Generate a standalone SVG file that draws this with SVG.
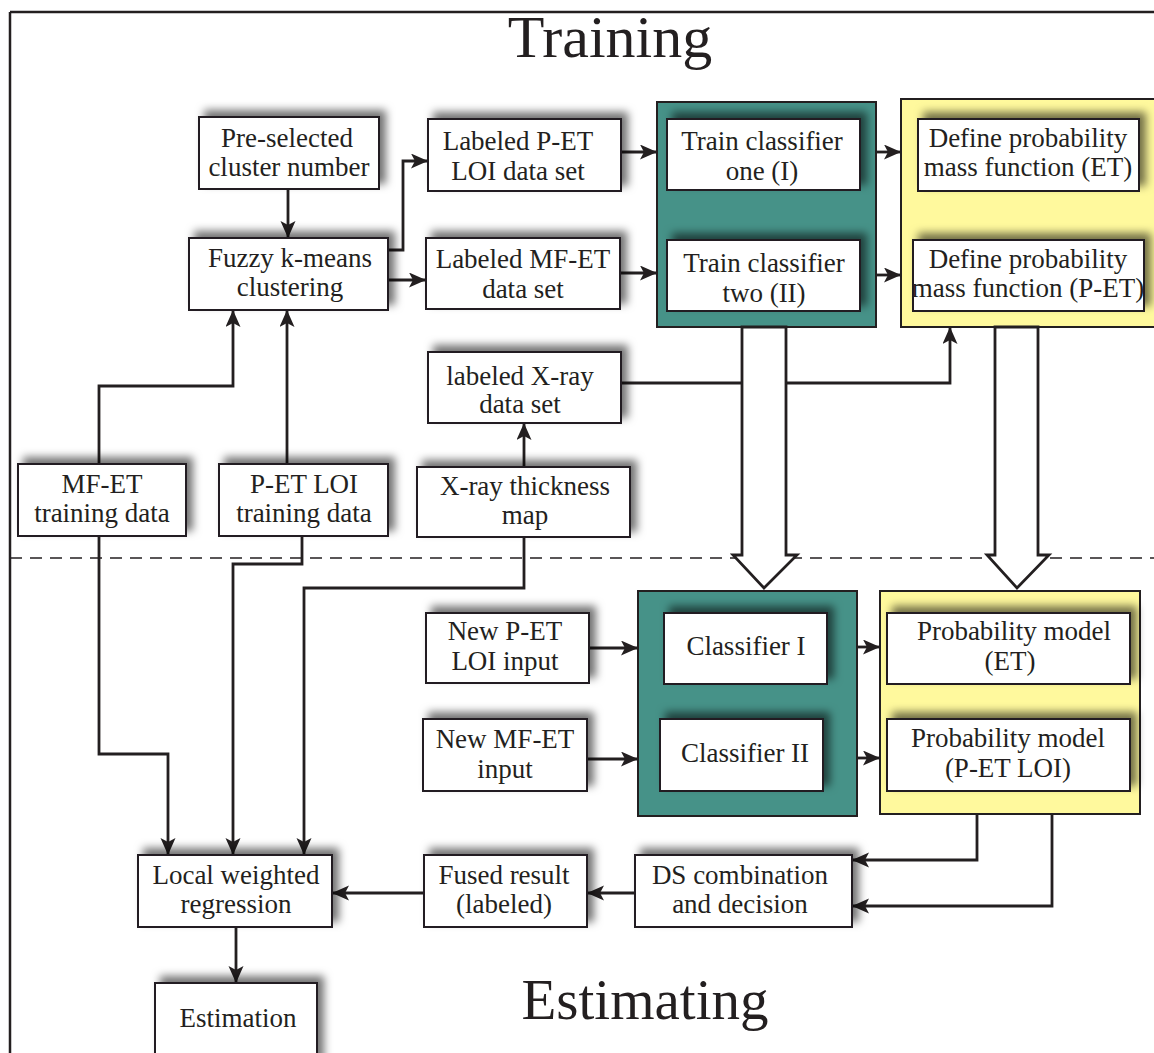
<svg xmlns="http://www.w3.org/2000/svg" width="1154" height="1053" viewBox="0 0 1154 1053">
<defs>
<style>
.box{fill:#fff;stroke:#231F20;stroke-width:2}
.t{font-family:"Liberation Serif","Times New Roman",serif;font-size:27px;fill:#231F20;text-anchor:middle}
.title{font-family:"Liberation Serif","Times New Roman",serif;fill:#231F20;text-anchor:middle}
.c{fill:none;stroke:#231F20;stroke-width:2.8}
.teal{fill:#469288;stroke:#231F20;stroke-width:2}
.yel{fill:#FFF99D;stroke:#231F20;stroke-width:2}
.hollow{fill:#fff;stroke:#231F20;stroke-width:2.8;stroke-linejoin:miter}
</style>
<filter id="sh" x="-20%" y="-40%" width="140%" height="180%">
<feGaussianBlur in="SourceAlpha" stdDeviation="4"/>
<feOffset dx="6" dy="-6" result="b"/>
<feFlood flood-color="#000" flood-opacity="0.55"/>
<feComposite in2="b" operator="in"/>
<feMerge><feMergeNode/><feMergeNode in="SourceGraphic"/></feMerge>
</filter>
<marker id="ah" markerUnits="userSpaceOnUse" markerWidth="20" markerHeight="18" refX="17" refY="7.5" orient="auto">
<path d="M0,0 L17,7.5 L0,15 L4,7.5 z" fill="#231F20"/>
</marker>
</defs>

<g id="frame">
<line x1="10" y1="12" x2="1154" y2="12" stroke="#231F20" stroke-width="2.5"/>
<line x1="10" y1="12" x2="10" y2="1053" stroke="#231F20" stroke-width="2.5"/>
<line x1="10" y1="558" x2="1154" y2="558" stroke="#231F20" stroke-width="1.6" stroke-dasharray="12,8"/>
<text class="title" x="610" y="57" font-size="60">Training</text>
<text class="title" x="645" y="1019" font-size="57">Estimating</text>
</g>

<g id="containers">
<rect id="teal-train" class="teal" x="657" y="102" width="219" height="225"/>
<rect id="yellow-train" class="yel" x="901" y="99" width="262" height="228"/>
<rect id="teal-est" class="teal" x="638" y="591" width="219" height="225"/>
<rect id="yellow-est" class="yel" x="880" y="591" width="260" height="223"/>
</g>

<g id="connectors">
<polyline class="c" points="288,189 288,238" marker-end="url(#ah)"/>
<polyline class="c" points="388,250 403,250 403,161 428,161" marker-end="url(#ah)"/>
<polyline class="c" points="388,280 426,280" marker-end="url(#ah)"/>
<polyline class="c" points="621,152 657,152" marker-end="url(#ah)"/>
<polyline class="c" points="620,273 657,273" marker-end="url(#ah)"/>
<polyline class="c" points="876,152 901,152" marker-end="url(#ah)"/>
<polyline class="c" points="876,275 901,275" marker-end="url(#ah)"/>
<polyline class="c" points="524,467 524,423" marker-end="url(#ah)"/>
<polyline class="c" points="621,383 950,383 950,327" marker-end="url(#ah)"/>
<polyline class="c" points="99,464 99,386 233,386 233,310" marker-end="url(#ah)"/>
<polyline class="c" points="287,464 287,310" stroke-width="3.4" marker-end="url(#ah)"/>
<polyline class="c" points="99,536 99,754 168,754 168,855" marker-end="url(#ah)"/>
<polyline class="c" points="302,536 302,564 233,564 233,855" marker-end="url(#ah)"/>
<polyline class="c" points="524,537 524,588 304,588 304,855" marker-end="url(#ah)"/>
<polyline class="c" points="589,648 638,648" stroke-width="3.4" marker-end="url(#ah)"/>
<polyline class="c" points="587,759 638,759" marker-end="url(#ah)"/>
<polyline class="c" points="857,647 880,647" marker-end="url(#ah)"/>
<polyline class="c" points="857,758 880,758" marker-end="url(#ah)"/>
<polyline class="c" points="977,814 977,860 852,860" marker-end="url(#ah)"/>
<polyline class="c" points="1052,814 1052,906 852,906" marker-end="url(#ah)"/>
<polyline class="c" points="635,893 587,893" stroke-width="3.4" marker-end="url(#ah)"/>
<polyline class="c" points="424,893 332,893" stroke-width="3.4" marker-end="url(#ah)"/>
<polyline class="c" points="236,927 236,983" marker-end="url(#ah)"/>
<polygon class="hollow" points="742,327 742,555 733,555 764,588 797,555 786,555 786,327"/>
<polygon class="hollow" points="995,327 995,555 987,555 1017,588 1049,555 1038,555 1038,327"/>
</g>

<g id="n-preselected"><rect class="box" filter="url(#sh)" x="199" y="117" width="180" height="72"/>
<text class="t" x="287" y="147">Pre-selected</text><text class="t" x="289" y="176">cluster number</text></g>
<g id="n-fuzzy"><rect class="box" filter="url(#sh)" x="189" y="238" width="199" height="72"/>
<text class="t" x="290" y="267">Fuzzy k-means</text><text class="t" x="290" y="296">clustering</text></g>
<g id="n-labeled-pet"><rect class="box" filter="url(#sh)" x="428" y="119" width="193" height="72"/>
<text class="t" x="518" y="150">Labeled P-ET</text><text class="t" x="518" y="180">LOI data set</text></g>
<g id="n-labeled-mfet"><rect class="box" filter="url(#sh)" x="426" y="238" width="194" height="71"/>
<text class="t" x="523" y="268">Labeled MF-ET</text><text class="t" x="523" y="298">data set</text></g>
<g id="n-train1"><rect class="box" filter="url(#sh)" x="667" y="119" width="193" height="71"/>
<text class="t" x="762" y="150">Train classifier</text><text class="t" x="762" y="180">one (I)</text></g>
<g id="n-train2"><rect class="box" filter="url(#sh)" x="667" y="240" width="193" height="71"/>
<text class="t" x="764" y="272">Train classifier</text><text class="t" x="764" y="302">two (II)</text></g>
<g id="n-pmf-et"><rect class="box" filter="url(#sh)" x="918" y="119" width="221" height="72"/>
<text class="t" x="1028" y="147">Define probability</text><text class="t" x="1028" y="176">mass function (ET)</text></g>
<g id="n-pmf-pet"><rect class="box" filter="url(#sh)" x="913" y="240" width="231" height="71"/>
<text class="t" x="1028" y="268">Define probability</text><text class="t" x="1028" y="297">mass function (P-ET)</text></g>
<g id="n-labeled-xray"><rect class="box" filter="url(#sh)" x="428" y="352" width="193" height="71"/>
<text class="t" x="520" y="385">labeled X-ray</text><text class="t" x="520" y="413">data set</text></g>
<g id="n-xray-map"><rect class="box" filter="url(#sh)" x="417" y="467" width="213" height="70"/>
<text class="t" x="525" y="495">X-ray thickness</text><text class="t" x="525" y="524">map</text></g>
<g id="n-mfet-train"><rect class="box" filter="url(#sh)" x="18" y="464" width="168" height="72"/>
<text class="t" x="102" y="493">MF-ET</text><text class="t" x="102" y="522">training data</text></g>
<g id="n-pet-train"><rect class="box" filter="url(#sh)" x="219" y="464" width="169" height="72"/>
<text class="t" x="304" y="493">P-ET LOI</text><text class="t" x="304" y="522">training data</text></g>
<g id="n-new-pet"><rect class="box" filter="url(#sh)" x="426" y="613" width="163" height="70"/>
<text class="t" x="505" y="640">New P-ET</text><text class="t" x="505" y="670">LOI input</text></g>
<g id="n-new-mfet"><rect class="box" filter="url(#sh)" x="423" y="719" width="164" height="72"/>
<text class="t" x="505" y="748">New MF-ET</text><text class="t" x="505" y="778">input</text></g>
<g id="n-classifier1"><rect class="box" filter="url(#sh)" x="664" y="613" width="163" height="71"/>
<text class="t" x="746" y="655">Classifier I</text></g>
<g id="n-classifier2"><rect class="box" filter="url(#sh)" x="660" y="719" width="163" height="72"/>
<text class="t" x="745" y="762">Classifier II</text></g>
<g id="n-prob-et"><rect class="box" filter="url(#sh)" x="887" y="613" width="243" height="71"/>
<text class="t" x="1014" y="640">Probability model</text><text class="t" x="1010" y="670">(ET)</text></g>
<g id="n-prob-pet"><rect class="box" filter="url(#sh)" x="887" y="719" width="243" height="72"/>
<text class="t" x="1008" y="747">Probability model</text><text class="t" x="1008" y="777">(P-ET LOI)</text></g>
<g id="n-ds"><rect class="box" filter="url(#sh)" x="635" y="855" width="217" height="72"/>
<text class="t" x="740" y="884">DS combination</text><text class="t" x="740" y="913">and decision</text></g>
<g id="n-fused"><rect class="box" filter="url(#sh)" x="424" y="855" width="163" height="72"/>
<text class="t" x="504" y="884">Fused result</text><text class="t" x="504" y="913">(labeled)</text></g>
<g id="n-lwr"><rect class="box" filter="url(#sh)" x="138" y="855" width="194" height="72"/>
<text class="t" x="236" y="884">Local weighted</text><text class="t" x="236" y="913">regression</text></g>
<g id="n-estimation"><rect class="box" filter="url(#sh)" x="155" y="983" width="162" height="90"/>
<text class="t" x="238" y="1027">Estimation</text></g>
</svg>
